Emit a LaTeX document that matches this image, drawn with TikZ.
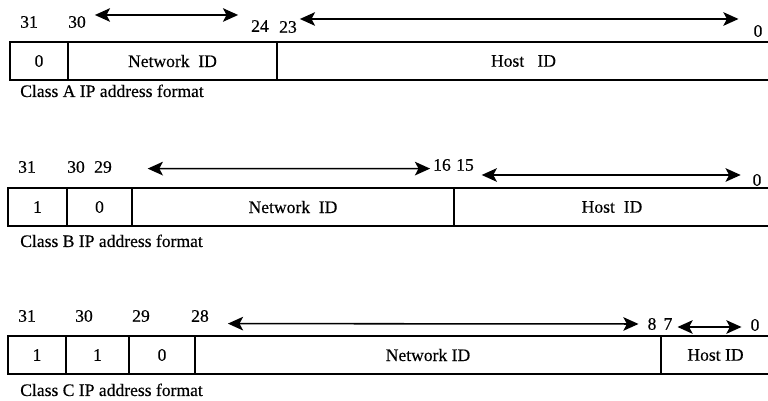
\documentclass[tikz,border=0pt]{standalone}
\usepackage{fontspec}
\setmainfont[FakeBold=0.4]{Liberation Serif}
\usetikzlibrary{arrows.meta,positioning}

\begin{document}
\begin{tikzpicture}[
  font=\fontsize{12.5}{14}\selectfont,
  field/.style={draw, line width=1pt, minimum height=0.95cm, inner sep=0pt, outer sep=0pt},
  bit/.style={inner sep=2pt},
  span/.style={{Stealth[length=3.8mm,width=3.4mm,inset=0.9mm]}-{Stealth[length=3.8mm,width=3.4mm,inset=0.9mm]}, line width=1.1pt},
  caption/.style={anchor=base west, inner sep=0pt}
]
  \useasboundingbox (0,0) rectangle (19.2,10.025);

  % Class A
  \node[bit] (a31) at (0.725,9.475) {31};
  \node[bit] (a30) at (1.925,9.475) {30};
  \node[bit] (a24) at (6.5,9.375) {24};
  \node[bit] (a23) at (7.2,9.35) {23};
  \node[bit] (a0) at (18.95,9.25) {0};

  \node[field, anchor=north west, minimum width=1.45cm] (acls) at (0.25,8.975) {0};
  \node[field, right=0pt of acls, minimum width=5.225cm] (anet) {Network~~ID};
  \node[field, right=0pt of anet, minimum width=12.325cm] (ahost) {Host~~~ID};

  \draw[span, shorten <=1.5mm, shorten >=2.5mm] ([yshift=1.75mm]a30.east) -- ([yshift=2.75mm]a24.west);
  \draw[span, shorten >=3mm] ([yshift=2mm]a23.east) -- ([yshift=3mm]a0.west);

  \node[caption] (acap) at (0.5,7.6) {Class A IP address format};

  % Class B
  \node[bit] (b31) at (0.675,5.85) {31};
  \node[bit] (b30) at (1.9,5.85) {30};
  \node[bit] (b29) at (2.575,5.85) {29};
  \node[bit] (b16) at (11.05,5.9) {16};
  \node[bit] (b15) at (11.625,5.9) {15};
  \node[bit] (b0) at (18.925,5.525) {0};

  \node[field, anchor=north west, minimum width=1.475cm] (bcls1) at (0.2,5.325) {1};
  \node[field, right=0pt of bcls1, minimum width=1.625cm] (bcls2) {0};
  \node[field, right=0pt of bcls2, minimum width=8.05cm] (bnet) {Network~~ID};
  \node[field, right=0pt of bnet, minimum width=7.9cm] (bhost) {Host~~ID};

  \draw[span, shorten <=8.2mm] ([yshift=-0.4mm]b29.east) -- ([yshift=-0.9mm]b16.west);
  \draw[span, shorten <=1.2mm, shorten >=2.2mm] ([yshift=-2.5mm]b15.east) -- ([yshift=1.25mm]b0.west);

  \node[caption] (bcap) at (0.5,3.85) {Class B IP address format};

  % Class C
  \node[bit] (c31) at (0.675,2.125) {31};
  \node[bit] (c30) at (2.1,2.125) {30};
  \node[bit] (c29) at (3.525,2.125) {29};
  \node[bit] (c28) at (5.0,2.125) {28};
  \node[bit] (c8) at (16.3,1.925) {8};
  \node[bit] (c7) at (16.7,1.925) {7};
  \node[bit] (c0) at (18.875,1.9) {0};

  \node[field, anchor=north west, minimum width=1.45cm] (ccls1) at (0.2,1.625) {1};
  \node[field, right=0pt of ccls1, minimum width=1.575cm] (ccls2) {1};
  \node[field, right=0pt of ccls2, minimum width=1.65cm] (ccls3) {0};
  \node[field, right=0pt of ccls3, minimum width=11.65cm] (cnet) {Network ID};
  \node[field, right=0pt of cnet, minimum width=2.725cm] (chost) {Host~ID};

  \draw[span, shorten <=4mm, shorten >=1.5mm] ([yshift=-1.9mm]c28.east) -- (c8.west);
  \draw[span, shorten <=0.5mm, shorten >=1.5mm] ([yshift=-0.75mm]c7.east) -- ([yshift=-0.5mm]c0.west);

  \node[caption] (ccap) at (0.5,0.125) {Class C IP address format};
\end{tikzpicture}
\end{document}
